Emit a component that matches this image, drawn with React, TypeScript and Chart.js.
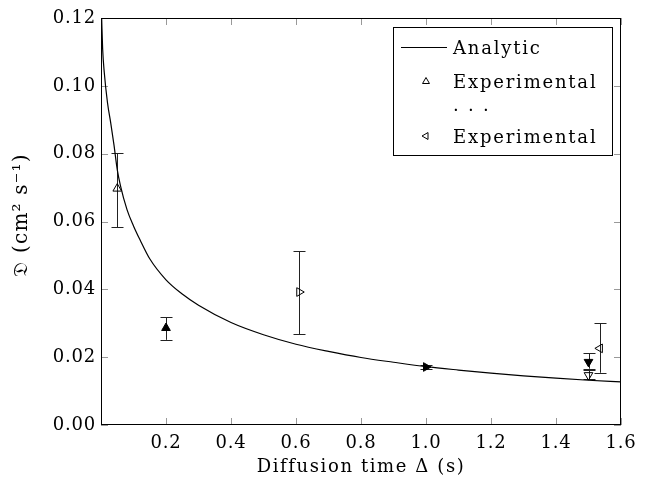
import React, { useEffect, useRef } from "react";
import { Chart, registerables } from "chart.js";
import { drawPoint } from "chart.js/helpers";

Chart.register(...registerables);

// ---- data ----
const xTickValues = [0.2, 0.4, 0.6, 0.8, 1.0, 1.2, 1.4, 1.6];
const yTickValues = [0, 0.02, 0.04, 0.06, 0.08, 0.1, 0.12];

const analyticX = [0.002, 0.005, 0.01, 0.02, 0.03, 0.04, 0.05, 0.06, 0.08, 0.1, 0.12, 0.15, 0.2, 0.25, 0.3, 0.4, 0.5, 0.6, 0.7, 0.8, 0.9, 1.0, 1.1, 1.2, 1.3, 1.4, 1.5, 1.6];
const analyticY = [0.12, 0.111, 0.104, 0.095, 0.089, 0.0825, 0.0753, 0.0705, 0.0635, 0.0587, 0.0546, 0.049, 0.0428, 0.0386, 0.0353, 0.0302, 0.0266, 0.0238, 0.0217, 0.0199, 0.0185, 0.0172, 0.0162, 0.0153, 0.0145, 0.0138, 0.0132, 0.0127];

const expX = [0.05, 0.2, 0.61, 1.0, 1.5, 1.5, 1.535];
const expY = [0.0697, 0.0286, 0.0392, 0.0171, 0.0186, 0.0147, 0.0226];
const expLow = [0.0583, 0.0251, 0.0268, 0.0165, 0.0166, 0.0136, 0.0154];
const expHigh = [0.0801, 0.0318, 0.0513, 0.0177, 0.0211, 0.0162, 0.030];
const expRotation = [0, 0, 90, 90, 180, 180, 270];
const expFilled = [false, true, false, true, true, false, false];

const legendLabels = ["Analytic", "Experimental", ". . .", "Experimental"];
const xTitle = "Diffusion time \u0394 (s)";
const yTitle = "\u{1D507} (cm\u00B2 s\u207B\u00B9)";

const FONT = "'DejaVu Serif', 'Liberation Serif', serif";

const decorPlugin = {
  id: "decor",
  beforeDraw(chart: any) {
    (chart.ctx as any).letterSpacing = "0.8px";
  },
  beforeDatasetsDraw(chart: any) {
    const { ctx, chartArea, scales } = chart;
    const xs = scales.x;
    const ys = scales.y;
    ctx.save();
    ctx.strokeStyle = "#999";
    ctx.lineWidth = 1;
    const L = 7;
    xTickValues.forEach((v) => {
      const px = Math.round(xs.getPixelForValue(v)) + 0.5;
      ctx.beginPath();
      ctx.moveTo(px, chartArea.bottom);
      ctx.lineTo(px, chartArea.bottom - L);
      ctx.moveTo(px, chartArea.top);
      ctx.lineTo(px, chartArea.top + L);
      ctx.stroke();
    });
    yTickValues.forEach((v) => {
      const py = Math.round(ys.getPixelForValue(v)) + 0.5;
      ctx.beginPath();
      ctx.moveTo(chartArea.left, py);
      ctx.lineTo(chartArea.left + L, py);
      ctx.moveTo(chartArea.right, py);
      ctx.lineTo(chartArea.right - L, py);
      ctx.stroke();
    });
    ctx.strokeStyle = "#222";
    expX.forEach((x, i) => {
      const px = Math.round(xs.getPixelForValue(x)) + 0.5;
      const lo = ys.getPixelForValue(expLow[i]);
      const hi = ys.getPixelForValue(expHigh[i]);
      ctx.beginPath();
      ctx.moveTo(px, lo);
      ctx.lineTo(px, hi);
      ctx.moveTo(px - 6, Math.round(lo) + 0.5);
      ctx.lineTo(px + 6, Math.round(lo) + 0.5);
      ctx.moveTo(px - 6, Math.round(hi) + 0.5);
      ctx.lineTo(px + 6, Math.round(hi) + 0.5);
      ctx.stroke();
    });
    ctx.restore();
  },
  afterDraw(chart: any) {
    const { ctx, chartArea } = chart;
    ctx.save();
    ctx.strokeStyle = "#000";
    ctx.lineWidth = 1;
    ctx.strokeRect(
      Math.round(chartArea.left) + 0.5,
      Math.round(chartArea.top) + 0.5,
      Math.round(chartArea.right - chartArea.left) - 1,
      Math.round(chartArea.bottom - chartArea.top) - 1
    );
    // legend
    const bx = 393.5, by = 27.5, bw = 219, bh = 128;
    ctx.fillStyle = "#fff";
    ctx.fillRect(bx, by, bw, bh);
    ctx.strokeRect(bx, by, bw, bh);
    ctx.fillStyle = "#000";
    ctx.font = `18px ${FONT}`;
    (ctx as any).letterSpacing = "1.8px";
    ctx.textBaseline = "alphabetic";
    ctx.textAlign = "left";
    const baselines = [54, 88, 111, 143];
    const mids = [47, 81.5, 104, 136];
    const tx = 453;
    ctx.beginPath();
    ctx.moveTo(401, mids[0] + 0.5);
    ctx.lineTo(447, mids[0] + 0.5);
    ctx.stroke();
    ctx.fillStyle = "rgba(0,0,0,0)";
    drawPoint(ctx, { pointStyle: "triangle", radius: 4, rotation: 0, borderWidth: 1 }, 426, mids[1]);
    drawPoint(ctx, { pointStyle: "triangle", radius: 4, rotation: 270, borderWidth: 1 }, 426, mids[3]);
    ctx.fillStyle = "#000";
    legendLabels.forEach((t, i) => {
      ctx.fillText(t, tx, baselines[i]);
    });
    // axis titles
    ctx.font = `18px ${FONT}`;
    (ctx as any).letterSpacing = "1.6px";
    ctx.textAlign = "center";
    ctx.textBaseline = "middle";
    ctx.fillText(xTitle, (chartArea.left + chartArea.right) / 2, 467);
    (ctx as any).letterSpacing = "1.2px";
    ctx.translate(22, 215);
    ctx.rotate(-Math.PI / 2);
    ctx.font = `20px ${FONT}`;
    ctx.fillText(yTitle, 0, 0);
    ctx.restore();
  },
};

export default function App() {
  const ref = useRef<HTMLCanvasElement | null>(null);
  useEffect(() => {
    if (!ref.current) return;
    const chart = new Chart(ref.current, {
      type: "scatter",
      data: {
        datasets: [
          {
            label: "Experimental",
            data: expX.map((x, i) => ({ x, y: expY[i] })),
            showLine: false,
            pointStyle: "triangle",
            pointRadius: 5,
            pointHoverRadius: 5,
            pointRotation: expRotation,
            pointBackgroundColor: expFilled.map((f) => (f ? "#000" : "rgba(0,0,0,0)")),
            pointBorderColor: "#000",
            pointBorderWidth: 1,
            order: 0,
          } as any,
          {
            label: "Analytic",
            data: analyticX.map((x, i) => ({ x, y: analyticY[i] })),
            showLine: true,
            borderColor: "#000",
            borderWidth: 1.2,
            pointRadius: 0,
            cubicInterpolationMode: "monotone",
            order: 1,
          } as any,
        ],
      },
      options: {
        responsive: false,
        animation: false,
        devicePixelRatio: 1,
        layout: { padding: { top: 18, right: 29, left: 0, bottom: 0 } },
        plugins: {
          legend: { display: false },
          tooltip: { enabled: false },
          title: { display: false },
        },
        scales: {
          x: {
            type: "linear",
            min: 0,
            max: 1.6,
            afterFit: (s: any) => {
              s.height = 64;
            },
            afterBuildTicks: (s: any) => {
              s.ticks = [0, ...xTickValues].map((v) => ({ value: v }));
            },
            grid: { display: false, drawTicks: false },
            border: { display: false },
            ticks: {
              padding: 8,
              color: "#000",
              font: { family: FONT, size: 18 },
              maxRotation: 0,
              autoSkip: false,
              callback: (v: any) => (Math.abs(v) < 1e-9 ? "" : Number(v).toFixed(1)),
            },
          },
          y: {
            type: "linear",
            min: 0,
            max: 0.12,
            afterFit: (s: any) => {
              s.width = 101;
            },
            afterBuildTicks: (s: any) => {
              s.ticks = yTickValues.map((v) => ({ value: v }));
            },
            grid: { display: false, drawTicks: false },
            border: { display: false },
            ticks: {
              padding: 5,
              color: "#000",
              font: { family: FONT, size: 18 },
              autoSkip: false,
              callback: (v: any) => Number(v).toFixed(2),
            },
          },
        },
      },
      plugins: [decorPlugin],
    });
    return () => chart.destroy();
  }, []);
  return (
    <div style={{ position: "absolute", left: 0, top: 0, width: 650, height: 489, background: "#fff" }}>
      <canvas ref={ref} width={650} height={489} style={{ width: 650, height: 489, display: "block" }} />
    </div>
  );
}
